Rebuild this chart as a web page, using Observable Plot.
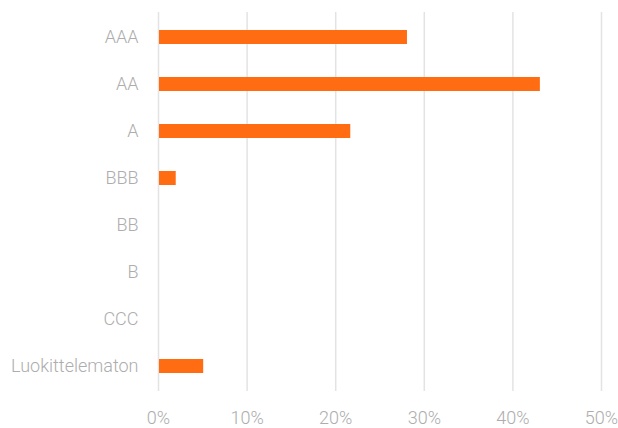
<!DOCTYPE html>
<html>
<head>
<meta charset="utf-8">
<script src="https://cdn.jsdelivr.net/npm/d3@7"></script>
<script src="https://cdn.jsdelivr.net/npm/@observablehq/plot@0.6"></script>
<style>
  html, body { margin: 0; padding: 0; background: #fff; }
  #chart svg { display: block; }
</style>
</head>
<body>
<div id="chart"></div>
<script>
const categories = ["AAA", "AA", "A", "BBB", "BB", "B", "CCC", "Luokittelematon"];
const values = [0.281, 0.431, 0.217, 0.020, 0, 0, 0, 0.051];
const xTicks = [0, 0.1, 0.2, 0.3, 0.4, 0.5];

const data = categories.map((c, i) => ({ rating: c, share: values[i] }));

const chart = Plot.plot({
  width: 618,
  height: 428,
  marginLeft: 158,
  marginRight: 17,
  marginTop: 12,
  marginBottom: 37,
  style: { fontFamily: "Roboto", fontWeight: 300, fontSize: "18px", color: "#adadad", background: "#fff" },
  x: { domain: [0, 0.5], ticks: xTicks, tickFormat: d => Math.round(d * 100) + "%", tickSize: 0, tickPadding: 20, label: null },
  y: { domain: categories, paddingInner: 0.695, paddingOuter: 0.337, tickSize: 0, tickPadding: 20, label: null },
  marks: [
    Plot.ruleX(xTicks, { stroke: "#e3e3e3", strokeWidth: 1.5 }),
    Plot.barX(data, { x: "share", y: "rating", fill: "#ff6c12", insetLeft: 1 }),
    Plot.axisX({ ticks: xTicks, tickFormat: d => Math.round(d * 100) + "%", tickSize: 0, tickPadding: 20, fontSize: 18, fill: "#adadad", label: null }),
    Plot.axisY({ tickSize: 0, tickPadding: 20, fontSize: 18, fill: "#adadad", label: null })
  ]
});
document.getElementById("chart").appendChild(chart);
</script>
</body>
</html>
